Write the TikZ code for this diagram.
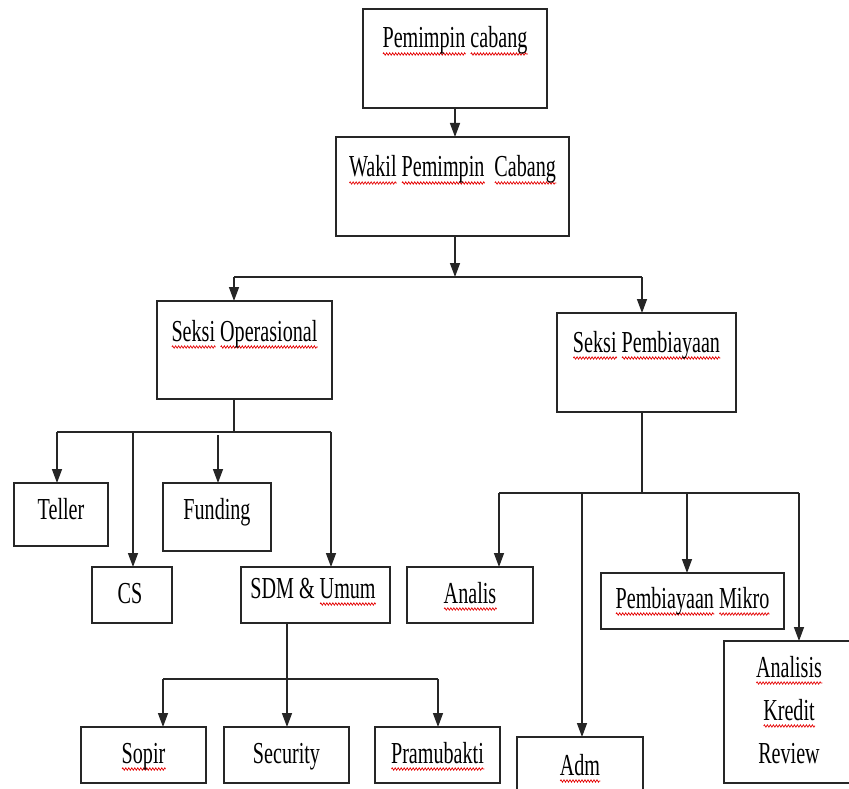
\documentclass[tikz,border=0pt]{standalone}
\usepackage{fontspec}
\setmainfont{Liberation Serif}[FakeStretch=0.66]
\usepackage{xcolor}
\usetikzlibrary{arrows.meta,decorations.pathmorphing}
\newlength\sqlen
\newcommand\sqz[1]{\settowidth\sqlen{#1}\rlap{\tikz[x=1pt,y=1pt,baseline=0pt]{\draw[red!90!black,line width=0.7pt,decorate,decoration={zigzag,segment length=3pt,amplitude=1.2pt}] (0,-6) -- (\the\sqlen,-6);}}#1}
\tikzset{
  box/.style={draw=black!85, line width=1.8pt, inner sep=0pt, outer sep=0pt, rectangle},
  lbl/.style={anchor=base, inner sep=0pt, font=\fontsize{30.5}{36}\selectfont, text=black},
  conn/.style={draw=black!85, line width=1.4pt},
  arr/.style={conn, -{Triangle[length=14pt,width=10pt]}},
}
\begin{document}
\begin{tikzpicture}[x=1pt,y=-1pt]
\clip (0,0) rectangle (849,789);
\fill[white] (0,0) rectangle (849,789);
% boxes
\node[box, minimum width=184pt, minimum height=99pt] (pc) at (455,58.5) {};
\node[box, minimum width=233pt, minimum height=99pt] (wpc) at (452.5,186.5) {};
\node[box, minimum width=175pt, minimum height=98pt] (so) at (244.5,350) {};
\node[box, minimum width=179pt, minimum height=99pt] (sp) at (646.5,362.5) {};
\node[box, minimum width=94pt, minimum height=63pt] (teller) at (61,514.5) {};
\node[box, minimum width=80pt, minimum height=56pt] (cs) at (132,595) {};
\node[box, minimum width=108pt, minimum height=68pt] (fund) at (217,517) {};
\node[box, minimum width=149pt, minimum height=56pt] (sdm) at (315.5,595) {};
\node[box, minimum width=126pt, minimum height=56pt] (analis) at (470,595) {};
\node[box, minimum width=183pt, minimum height=56pt] (mikro) at (692.5,601) {};
\node[box, minimum width=126pt, minimum height=63pt] (adm) at (580,768.5) {};
\node[box, minimum width=127pt, minimum height=142pt] (akr) at (787.5,712) {};
\node[box, minimum width=125pt, minimum height=56pt] (sopir) at (143.5,755) {};
\node[box, minimum width=125pt, minimum height=56pt] (secu) at (286.5,755) {};
\node[box, minimum width=125pt, minimum height=56pt] (pramu) at (437.5,755) {};
% labels
\node[lbl] (tpc) at (455,48) {\sqz{Pemimpin} \sqz{cabang}};
\node[lbl] (twpc) at (452.5,177) {\sqz{Wakil} \sqz{Pemimpin}\ \ \sqz{Cabang}};
\node[lbl] (tso) at (244.5,341) {\sqz{Seksi} \sqz{Operasional}};
\node[lbl] (tsp) at (646.5,352) {\sqz{Seksi} \sqz{Pembiayaan}};
\node[lbl] (tteller) at (61,519) {Teller};
\node[lbl] (tfund) at (217,519) {Funding};
\node[lbl] (tcs) at (130,603) {CS};
\node[lbl] (tsdm) at (313,598) {SDM \& \sqz{Umum}};
\node[lbl] (tanalis) at (470,603) {\sqz{Analis}};
\node[lbl] (tmikro) at (692.5,608) {\sqz{Pembiayaan} \sqz{Mikro}};
\node[lbl] (tadm) at (580,775) {\sqz{Adm}};
\node[lbl] (takr1) at (789,677) {\sqz{Analisis}};
\node[lbl] (takr2) at (789,720) {\sqz{Kredit}};
\node[lbl] (takr3) at (789,763) {Review};
\node[lbl] (tsopir) at (143.5,763) {\sqz{Sopir}};
\node[lbl] (tsecu) at (286.5,763) {Security};
\node[lbl] (tpramu) at (437.5,763) {\sqz{Pramubakti}};
% junction coordinates
\coordinate (j1) at (455,277);
\coordinate (j1l) at (234,277);
\coordinate (j1r) at (642,277);
\coordinate (j2) at (234,432);
\coordinate (j2a) at (57,432);
\coordinate (j2b) at (133,432);
\coordinate (j2c) at (218,435);
\coordinate (j2d) at (331,432);
\coordinate (j3) at (287,679);
\coordinate (j3a) at (163,679);
\coordinate (j3c) at (438,679);
\coordinate (j4) at (642,493);
\coordinate (j4a) at (499,493);
\coordinate (j4b) at (582,493);
\coordinate (j4c) at (687,493);
\coordinate (j4d) at (799,493);
% connectors
\draw[arr] (pc.south) -- (pc.south |- wpc.north);
\draw[arr] (j1 |- wpc.south) -- (j1);
\draw[conn] (j1l) -- (j1r);
\draw[arr] (j1l) -- (j1l |- so.north);
\draw[arr] (j1r) -- (j1r |- sp.north);
\draw[conn] (j2 |- so.south) -- (j2);
\draw[conn] (j2a) -- (j2d);
\draw[arr] (j2a) -- (j2a |- teller.north);
\draw[arr] (j2b) -- (j2b |- cs.north);
\draw[arr] (j2c) -- (j2c |- fund.north);
\draw[arr] (j2d) -- (j2d |- sdm.north);
\draw[conn] (j3 |- sdm.south) -- (j3);
\draw[conn] (j3a) -- (j3c);
\draw[arr] (j3a) -- (j3a |- sopir.north);
\draw[arr] (j3) -- (j3 |- secu.north);
\draw[arr] (j3c) -- (j3c |- pramu.north);
\draw[conn] (j4 |- sp.south) -- (j4);
\draw[conn] (j4a) -- (j4d);
\draw[arr] (j4a) -- (j4a |- analis.north);
\draw[arr] (j4b) -- (j4b |- adm.north);
\draw[arr] (j4c) -- (j4c |- mikro.north);
\draw[arr] (j4d) -- (j4d |- akr.north);
\end{tikzpicture}
\end{document}
